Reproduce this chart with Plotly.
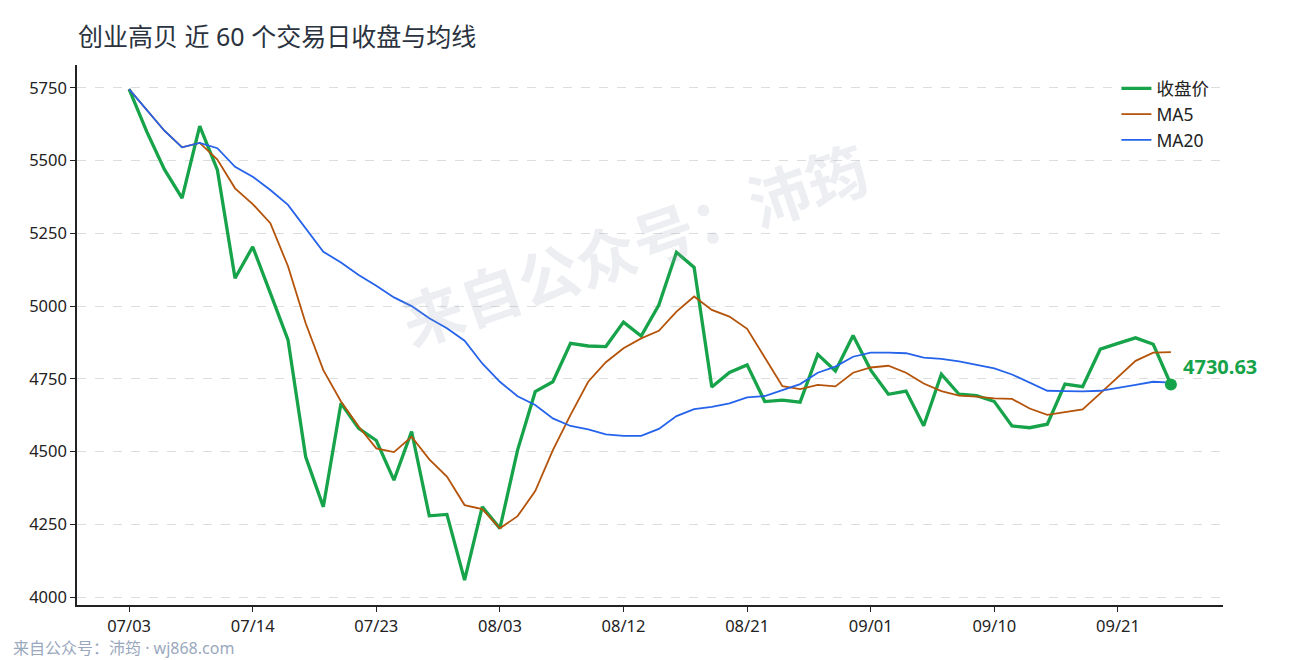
import plotly.graph_objects as go

# 近 60 个交易日 收盘价 与 均线
close = [5746, 5600, 5470, 5371, 5619, 5468, 5096, 5204, 5045, 4884,
         4482, 4310, 4666, 4580, 4538, 4402, 4569, 4279, 4284, 4058,
         4310, 4236, 4505, 4706, 4740, 4872, 4863, 4861, 4945, 4897,
         5004, 5185, 5133, 4722, 4772, 4798, 4672, 4677, 4670, 4834,
         4777, 4899, 4780, 4697, 4708, 4589, 4766, 4697, 4692, 4672,
         4588, 4582, 4594, 4732, 4723, 4852, 4872, 4891, 4869, 4730.63]

ma5 = [5746, 5674, 5603, 5546, 5561, 5504, 5405, 5351, 5285, 5137,
       4941, 4780, 4672, 4586, 4511, 4498, 4551, 4473, 4414, 4316,
       4302, 4236, 4278, 4364, 4505, 4626, 4740, 4807, 4855, 4889,
       4915, 4981, 5033, 4987, 4964, 4922, 4822, 4725, 4715, 4729,
       4724, 4771, 4789, 4795, 4771, 4734, 4708, 4692, 4689, 4683,
       4681, 4648, 4626, 4635, 4645, 4700, 4757, 4812, 4840, 4842]

ma20 = [5746, 5674, 5603, 5546, 5561, 5543, 5479, 5445, 5399, 5348,
        5268, 5187, 5150, 5107, 5070, 5030, 5000, 4958, 4924, 4881,
        4803, 4740, 4690, 4660, 4614, 4588, 4576, 4559, 4554, 4554,
        4578, 4622, 4646, 4654, 4666, 4686, 4691, 4711, 4732, 4771,
        4792, 4826, 4840, 4840, 4838, 4823, 4819, 4810, 4798, 4786,
        4765, 4737, 4709, 4708, 4707, 4709, 4718, 4729, 4740, 4737]

tick_labels = ["07/03", "07/14", "07/23", "08/03", "08/12",
               "08/21", "09/01", "09/10", "09/21"]

x = list(range(len(close)))
tick_idx = list(range(0, len(close), 7))

FONT = "Noto Sans, Noto Sans CJK SC, sans-serif"
GREEN = "#16a34a"

fig = go.Figure()
fig.add_trace(go.Scatter(x=x, y=close, mode="lines", name="收盘价",
                         line=dict(color=GREEN, width=3.3)))
fig.add_trace(go.Scatter(x=x, y=ma5, mode="lines", name="MA5",
                         line=dict(color="#b45309", width=1.8)))
fig.add_trace(go.Scatter(x=x, y=ma20, mode="lines", name="MA20",
                         line=dict(color="#2563eb", width=1.8)))
# 最后一个点
fig.add_trace(go.Scatter(x=[x[-1]], y=[close[-1]], mode="markers",
                         marker=dict(color=GREEN, size=12), showlegend=False))

fig.add_annotation(x=x[-1], y=close[-1], text=f"<b>{close[-1]:.2f}</b>",
                   showarrow=False, xanchor="left", yanchor="middle",
                   xshift=10, yshift=18,
                   font=dict(size=20, color=GREEN, family=FONT))

# 水印
fig.add_annotation(x=0.487, y=0.665, xref="paper", yref="paper",
                   xanchor="center", yanchor="middle",
                   text="<b>来自公众号：沛筠</b>", showarrow=False, textangle=-19,
                   font=dict(size=61, color="rgba(148,163,184,0.18)", family=FONT))
# 页脚
fig.add_annotation(x=-0.0575, y=-0.08, xref="paper", yref="paper",
                   text="来自公众号：沛筠 · wj868.com", showarrow=False,
                   xanchor="left", yanchor="middle",
                   font=dict(size=16, color="#9aa8bd", family=FONT))

fig.update_layout(
    width=1290, height=660,
    margin=dict(l=69, r=75, t=57, b=63),
    paper_bgcolor="white", plot_bgcolor="white",
    font=dict(family=FONT, size=16.5, color="#222222"),
    title=dict(text="创业高贝 近 60 个交易日收盘与均线", xref="container", yref="container",
               x=0.0543, y=0.956, xanchor="left", yanchor="middle",
               font=dict(size=25, color="#2b3340", family=FONT)),
    legend=dict(x=0.907, y=0.99, xanchor="left", yanchor="top",
                bgcolor="rgba(0,0,0,0)", font=dict(size=17.5, color="#222222")),
    showlegend=True,
)

fig.update_xaxes(range=[-2.95, 61.95], tickvals=tick_idx, ticktext=tick_labels,
                 showgrid=False, zeroline=False,
                 showline=True, linecolor="#222222", linewidth=1.6,
                 ticks="outside", ticklen=5, tickcolor="#222222", tickwidth=1.4)
fig.update_yaxes(range=[3972.5, 5829], tickvals=[4000, 4250, 4500, 4750, 5000, 5250, 5500, 5750],
                 showgrid=True, gridcolor="#dddddd", griddash="dash", gridwidth=1,
                 zeroline=False, showline=True, linecolor="#222222", linewidth=1.6,
                 ticks="outside", ticklen=5, tickcolor="#222222", tickwidth=1.4)

fig.write_html("out.html", config={"displayModeBar": False})
